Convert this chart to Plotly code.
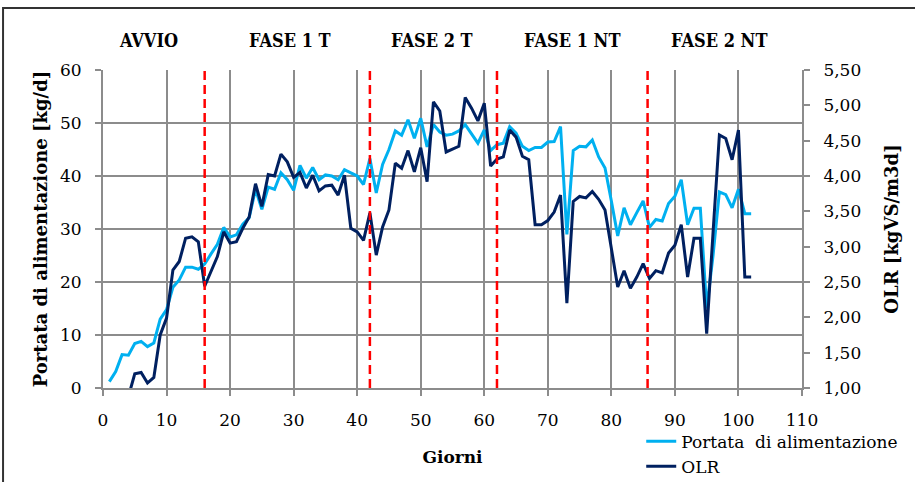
import plotly.graph_objects as go

# ---------------- data ----------------
giorni = list(range(1, 103))

portata = [1.2, 3.1, 6.3, 6.2, 8.4, 8.8, 7.8, 8.5, 13.0, 14.8,
           19.0, 20.4, 22.8, 22.8, 22.4, 23.4, 25.3, 27.1, 30.3, 28.5,
           28.9, 30.9, 32.1, 37.5, 33.7, 37.9, 37.5, 40.6, 39.3, 37.3,
           42.0, 39.6, 41.6, 39.3, 40.2, 40.0, 39.3, 41.2, 40.6, 40.0,
           38.4, 43.3, 36.8, 42.2, 45.0, 48.5, 47.7, 50.6, 47.1, 50.9,
           45.5, 49.7, 48.3, 47.7, 47.9, 48.5, 49.7, 47.9, 46.2, 48.7,
           44.8, 45.9, 46.2, 49.3, 48.1, 45.6, 44.8, 45.4, 45.4, 46.4,
           46.5, 49.3, 29.0, 44.8, 45.6, 45.5, 46.8, 43.6, 41.5, 35.3,
           28.7, 34.0, 30.8, 33.1, 35.3, 30.3, 31.8, 31.5, 34.8, 36.2,
           39.3, 30.8, 33.9, 33.9, 15.0, 25.0, 37.0, 36.5, 34.0, 37.5,
           32.9, 32.9]

olr = [None, None, None, 0.88, 1.20, 1.22, 1.07, 1.15, 1.75, 1.99,
       2.67, 2.79, 3.12, 3.14, 3.07, 2.44, 2.65, 2.86, 3.21, 3.05,
       3.07, 3.26, 3.42, 3.89, 3.57, 4.02, 4.00, 4.31, 4.20, 3.98,
       4.05, 3.83, 4.01, 3.79, 3.86, 3.87, 3.73, 4.01, 3.26, 3.21,
       3.09, 3.48, 2.88, 3.28, 3.52, 4.18, 4.11, 4.36, 4.06, 4.40,
       3.92, 5.05, 4.92, 4.34, 4.38, 4.42, 5.11, 4.96, 4.78, 5.03,
       4.14, 4.24, 4.27, 4.65, 4.55, 4.28, 4.23, 3.31, 3.31, 3.37,
       3.49, 3.73, 2.20, 3.64, 3.71, 3.69, 3.78, 3.67, 3.52, 3.00,
       2.43, 2.66, 2.41, 2.57, 2.76, 2.55, 2.66, 2.63, 2.91, 3.02,
       3.31, 2.57, 3.12, 3.12, 1.77, 3.20, 4.58, 4.53, 4.23, 4.65,
       2.57, 2.57]

fasi = ["AVVIO", "FASE 1 T", "FASE 2 T", "FASE 1 NT", "FASE 2 NT"]
fasi_centro = [7.2, 29.5, 51.7, 73.8, 96.9]
confini_fasi = [16, 42, 62, 85.7]

# ---------------- styles ----------------
FONT = "DejaVu Serif"
LIGHT = "#00B0F0"
DARK = "#002060"
GRID = "#8C8C8C"

fig = go.Figure()
fig.add_trace(go.Scatter(x=giorni, y=portata, mode="lines",
                         name="Portata\u00a0\u00a0di alimentazione",
                         line=dict(color=LIGHT, width=3), yaxis="y"))
fig.add_trace(go.Scatter(x=giorni, y=olr, mode="lines", name="OLR",
                         line=dict(color=DARK, width=3), yaxis="y2"))

shapes = []
for xb in confini_fasi:
    shapes.append(dict(type="line", xref="x", yref="paper", x0=xb, x1=xb,
                       y0=0.0, y1=1.0, layer="above",
                       line=dict(color="#FF0000", width=2.5, dash="9px,5px")))
# outer chart border
shapes.append(dict(type="rect", xref="paper", yref="paper",
                   x0=-0.143, x1=1.3, y0=-0.5, y1=1.195, layer="below",
                   line=dict(color="#333333", width=2), fillcolor="rgba(0,0,0,0)"))

annotations = []
for t, xc in zip(fasi, fasi_centro):
    annotations.append(dict(text="<b>%s</b>" % t, x=xc, xref="x", y=1.094,
                            yref="paper", xanchor="center", yanchor="middle",
                            showarrow=False,
                            font=dict(family="DejaVu Serif Condensed, " + FONT,
                                      size=18, color="black")))

axis_common = dict(showline=True, linecolor=GRID, linewidth=2,
                   ticks="outside", ticklen=6, tickwidth=2, tickcolor=GRID,
                   tickfont=dict(family=FONT, size=17, color="black"),
                   zeroline=False, automargin=False)

fig.update_layout(
    width=915, height=482,
    margin=dict(l=103, r=113, t=70, b=94, autoexpand=False),
    paper_bgcolor="white", plot_bgcolor="white",
    separators=",.",
    font=dict(family=FONT, color="black"),
    xaxis=dict(range=[0, 110], dtick=10, tick0=0, showgrid=True,
               gridcolor=GRID, gridwidth=2, ticklabelstandoff=10,
               title=dict(text="<b>Giorni</b>", standoff=22,
                          font=dict(family=FONT, size=17)),
               **axis_common),
    yaxis=dict(range=[0, 60], dtick=10, tick0=0, showgrid=True,
               gridcolor=GRID, gridwidth=2, ticklabelstandoff=10,
               title=dict(text="<b>Portata di alimentazione [kg/d]</b>",
                          standoff=8, font=dict(family=FONT, size=18)),
               **axis_common),
    yaxis2=dict(range=[1, 5.5], dtick=0.5, tick0=1, overlaying="y",
                side="right", showgrid=False, tickformat=".2f",
                ticklabelstandoff=10,
                title=dict(text="<b>OLR [kgVS/m3d]</b>", standoff=25,
                           font=dict(family=FONT, size=18)),
                **axis_common),
    legend=dict(x=0.77, y=-0.112, xanchor="left", yanchor="top",
                bgcolor="rgba(0,0,0,0)", tracegroupgap=0,
                font=dict(family=FONT, size=17, color="black")),
    shapes=shapes,
    annotations=annotations,
)

fig.write_html("out.html")
